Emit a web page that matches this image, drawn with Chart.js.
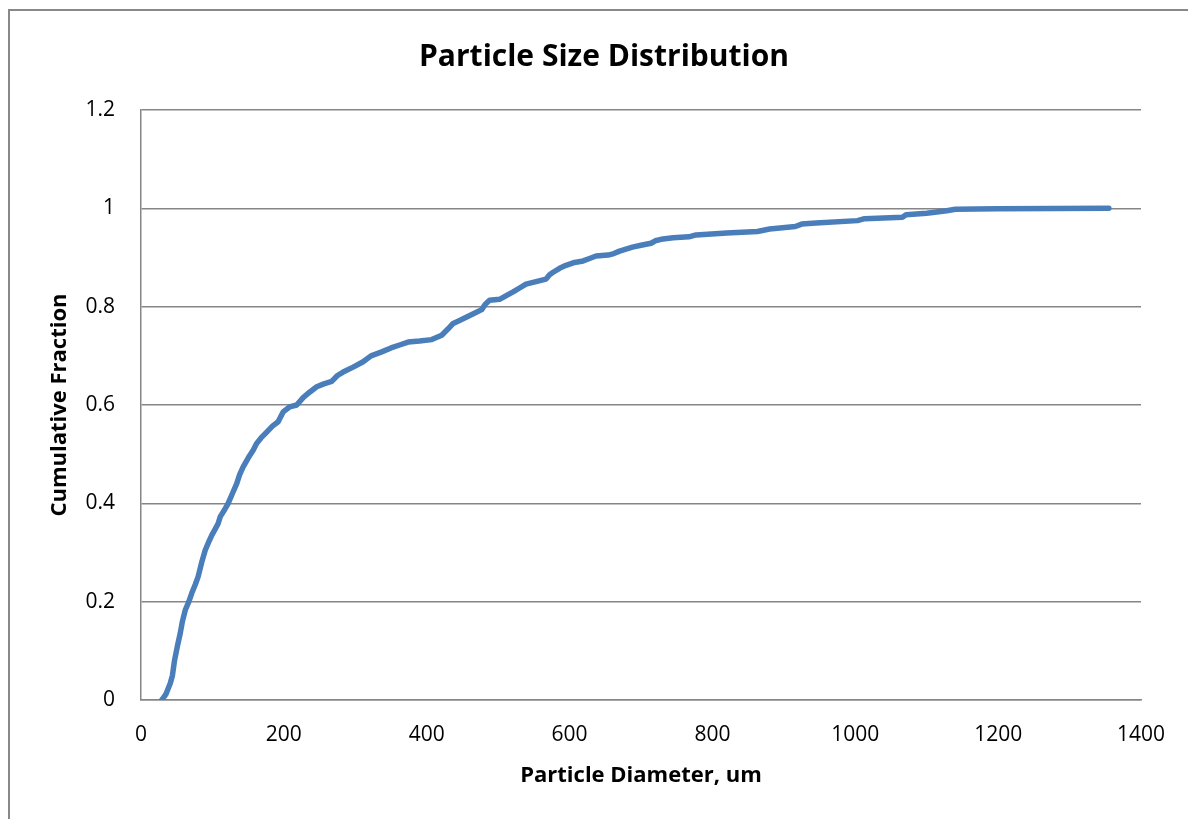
<!DOCTYPE html>
<html>
<head>
<meta charset="utf-8">
<script src="https://cdn.jsdelivr.net/npm/chart.js@4/dist/chart.umd.min.js"></script>
<style>
html,body{margin:0;padding:0;background:#fff;}
#wrap{position:relative;width:1188px;height:819px;}
</style>
</head>
<body>
<div id="wrap"><canvas id="c" width="1188" height="819"></canvas></div>
<script>
const titleText = "Particle Size Distribution";
const xTitle = "Particle Diameter, um";
const yTitle = "Cumulative Fraction";

const diameters = [29,35,41,44,47,51,55,58,62,67,71,76,80,85,90,95,99,104,108,111,117,122,128,134,138,143,150,157,162,168,176,184,192,199,208,218,227,236,246,256,267,275,283,297,311,322,337,350,362,374,390,407,421,430,437,446,456,466,477,482,488,502,512,521,530,539,553,567,572,577,586,595,607,619,628,637,654,662,670,688,700,714,720,728,745,767,777,820,863,880,916,925,945,1003,1013,1066,1071,1100,1128,1140,1200,1355];
const fractions = [0,0.012,0.034,0.05,0.081,0.11,0.136,0.16,0.183,0.2,0.217,0.235,0.251,0.28,0.305,0.322,0.335,0.348,0.359,0.373,0.387,0.4,0.42,0.44,0.458,0.474,0.492,0.508,0.522,0.533,0.545,0.557,0.566,0.586,0.596,0.6,0.615,0.626,0.637,0.643,0.648,0.66,0.667,0.677,0.688,0.7,0.708,0.716,0.722,0.728,0.73,0.733,0.742,0.755,0.766,0.772,0.779,0.786,0.794,0.805,0.813,0.815,0.823,0.83,0.838,0.846,0.851,0.856,0.865,0.87,0.878,0.884,0.89,0.893,0.898,0.903,0.905,0.908,0.913,0.921,0.925,0.929,0.934,0.937,0.94,0.942,0.946,0.95,0.953,0.958,0.963,0.968,0.97,0.975,0.979,0.982,0.987,0.99,0.995,0.998,0.999,1.0];

const FONT = "'Open Sans'";

const frame = {
  id: 'frame',
  beforeDraw(chart) {
    const ctx = chart.ctx;
    ctx.save();
    ctx.fillStyle = '#fff';
    ctx.fillRect(0, 0, chart.width, chart.height);
    ctx.strokeStyle = '#888';
    ctx.lineWidth = 2;
    ctx.beginPath();
    ctx.moveTo(9, chart.height);
    ctx.lineTo(9, 10);
    ctx.lineTo(chart.width, 10);
    ctx.stroke();
    ctx.restore();
  }
};

new Chart(document.getElementById('c'), {
  type: 'line',
  data: {
    datasets: [{
      data: diameters.map((d, i) => ({x: d, y: fractions[i]})),
      borderColor: '#4A7EBB',
      borderWidth: 5.5,
      pointRadius: 0,
      tension: 0,
      borderCapStyle: 'round',
      borderJoinStyle: 'round',
      fill: false
    }]
  },
  options: {
    responsive: false,
    animation: false,
    devicePixelRatio: 1,
    layout: {padding: {left: 20, right: 0, top: 0, bottom: 0}},
    plugins: {
      legend: {display: false},
      tooltip: {enabled: false},
      title: {
        display: true,
        text: titleText,
        color: '#000',
        font: {family: FONT, size: 30, weight: 'bold', lineHeight: 1.2},
        padding: {top: 39, bottom: 35}
      }
    },
    scales: {
      x: {
        type: 'linear',
        min: 0, max: 1400,
        afterFit(s) { s.height = 119; },
        ticks: {stepSize: 200, color: '#000', font: {family: FONT, size: 21}, padding: 22, maxRotation: 0,
          callback: v => String(v)},
        grid: {display: false, drawTicks: false},
        border: {display: true, color: '#868686', width: 1.5},
        title: {display: true, text: xTitle, color: '#000', font: {family: FONT, size: 22, weight: 'bold', lineHeight: 1.2}, padding: {top: 0, bottom: 30}}
      },
      y: {
        min: 0, max: 1.2,
        afterFit(s) { s.width = 121; },
        ticks: {stepSize: 0.2, color: '#000', font: {family: FONT, size: 21}, padding: 26,
          callback: v => String(parseFloat(v.toFixed(1)))},
        grid: {color: '#868686', lineWidth: 1.5, drawTicks: false},
        border: {display: true, color: '#868686', width: 1.5},
        title: {display: true, text: yTitle, color: '#000', font: {family: FONT, size: 22, weight: 'bold', lineHeight: 1.2}, padding: {top: 27, bottom: 0}}
      },
      yRight: {
        type: 'linear',
        position: 'right',
        min: 0, max: 1.2,
        afterFit(s) { s.width = 47; },
        ticks: {display: false},
        grid: {display: false, drawTicks: false},
        border: {display: false}
      }
    }
  },
  plugins: [frame]
});
</script>
</body>
</html>
